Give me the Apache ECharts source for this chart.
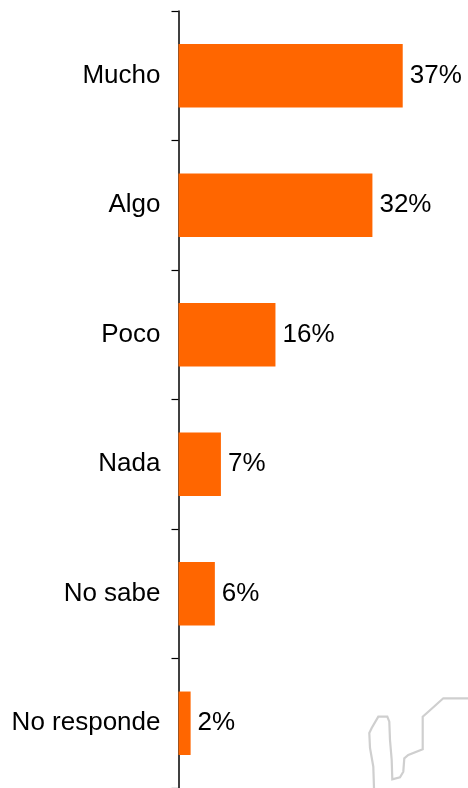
<!DOCTYPE html>
<html>
<head>
<meta charset="utf-8">
<style>
html,body{margin:0;padding:0;background:#fff;}
#chart{width:468px;height:788px;}
</style>
<script src="https://cdn.jsdelivr.net/npm/echarts@6/dist/echarts.min.js"></script>
</head>
<body>
<div id="chart"></div>
<script>
const categories = ["Mucho", "Algo", "Poco", "Nada", "No sabe", "No responde"];
const values = [37, 32, 16, 7, 6, 2];

const chart = echarts.init(document.getElementById('chart'), null, {renderer: 'canvas'});
chart.setOption({
  animation: false,
  backgroundColor: '#ffffff',
  grid: {left: 178.5, top: 11, width: 242.4, height: 779},
  xAxis: {
    type: 'value', min: 0, max: 40, show: false
  },
  yAxis: {
    type: 'category',
    inverse: true,
    data: categories,
    axisLine: {show: true, lineStyle: {color: '#000', width: 1.5}},
    axisTick: {show: true, length: 7, lineStyle: {color: '#000', width: 1.2}},
    axisLabel: {
      color: '#000', fontFamily: 'Liberation Sans, Arial, sans-serif', fontSize: 26, margin: 18
    },
    splitLine: {show: false}
  },
  series: [{
    type: 'bar',
    data: values,
    barWidth: '49%',
    itemStyle: {color: '#FF6600'},
    label: {
      show: true, position: 'right', distance: 7,
      formatter: p => p.value + '%',
      color: '#000', fontFamily: 'Liberation Sans, Arial, sans-serif', fontSize: 26
    }
  }],
  graphic: [{
    type: 'polyline',
    silent: true,
    shape: {points: [[374,788],[373.3,766.7],[370,748],[369.3,733],[371.7,728],[378.3,716.7],[387.3,716.7],[389.3,721.7],[390,740],[391.7,760],[392.3,779.3],[400,777.3],[403.3,771.7],[404.3,758.3],[408.3,755],[422.7,749.3],[422.7,716.7],[428.3,711.7],[443.3,698.3],[466.7,698.3],[468,698.3]]},
    style: {stroke: '#cfcfcf', lineWidth: 2.2, fill: null}
  }]
});
</script>
</body>
</html>
